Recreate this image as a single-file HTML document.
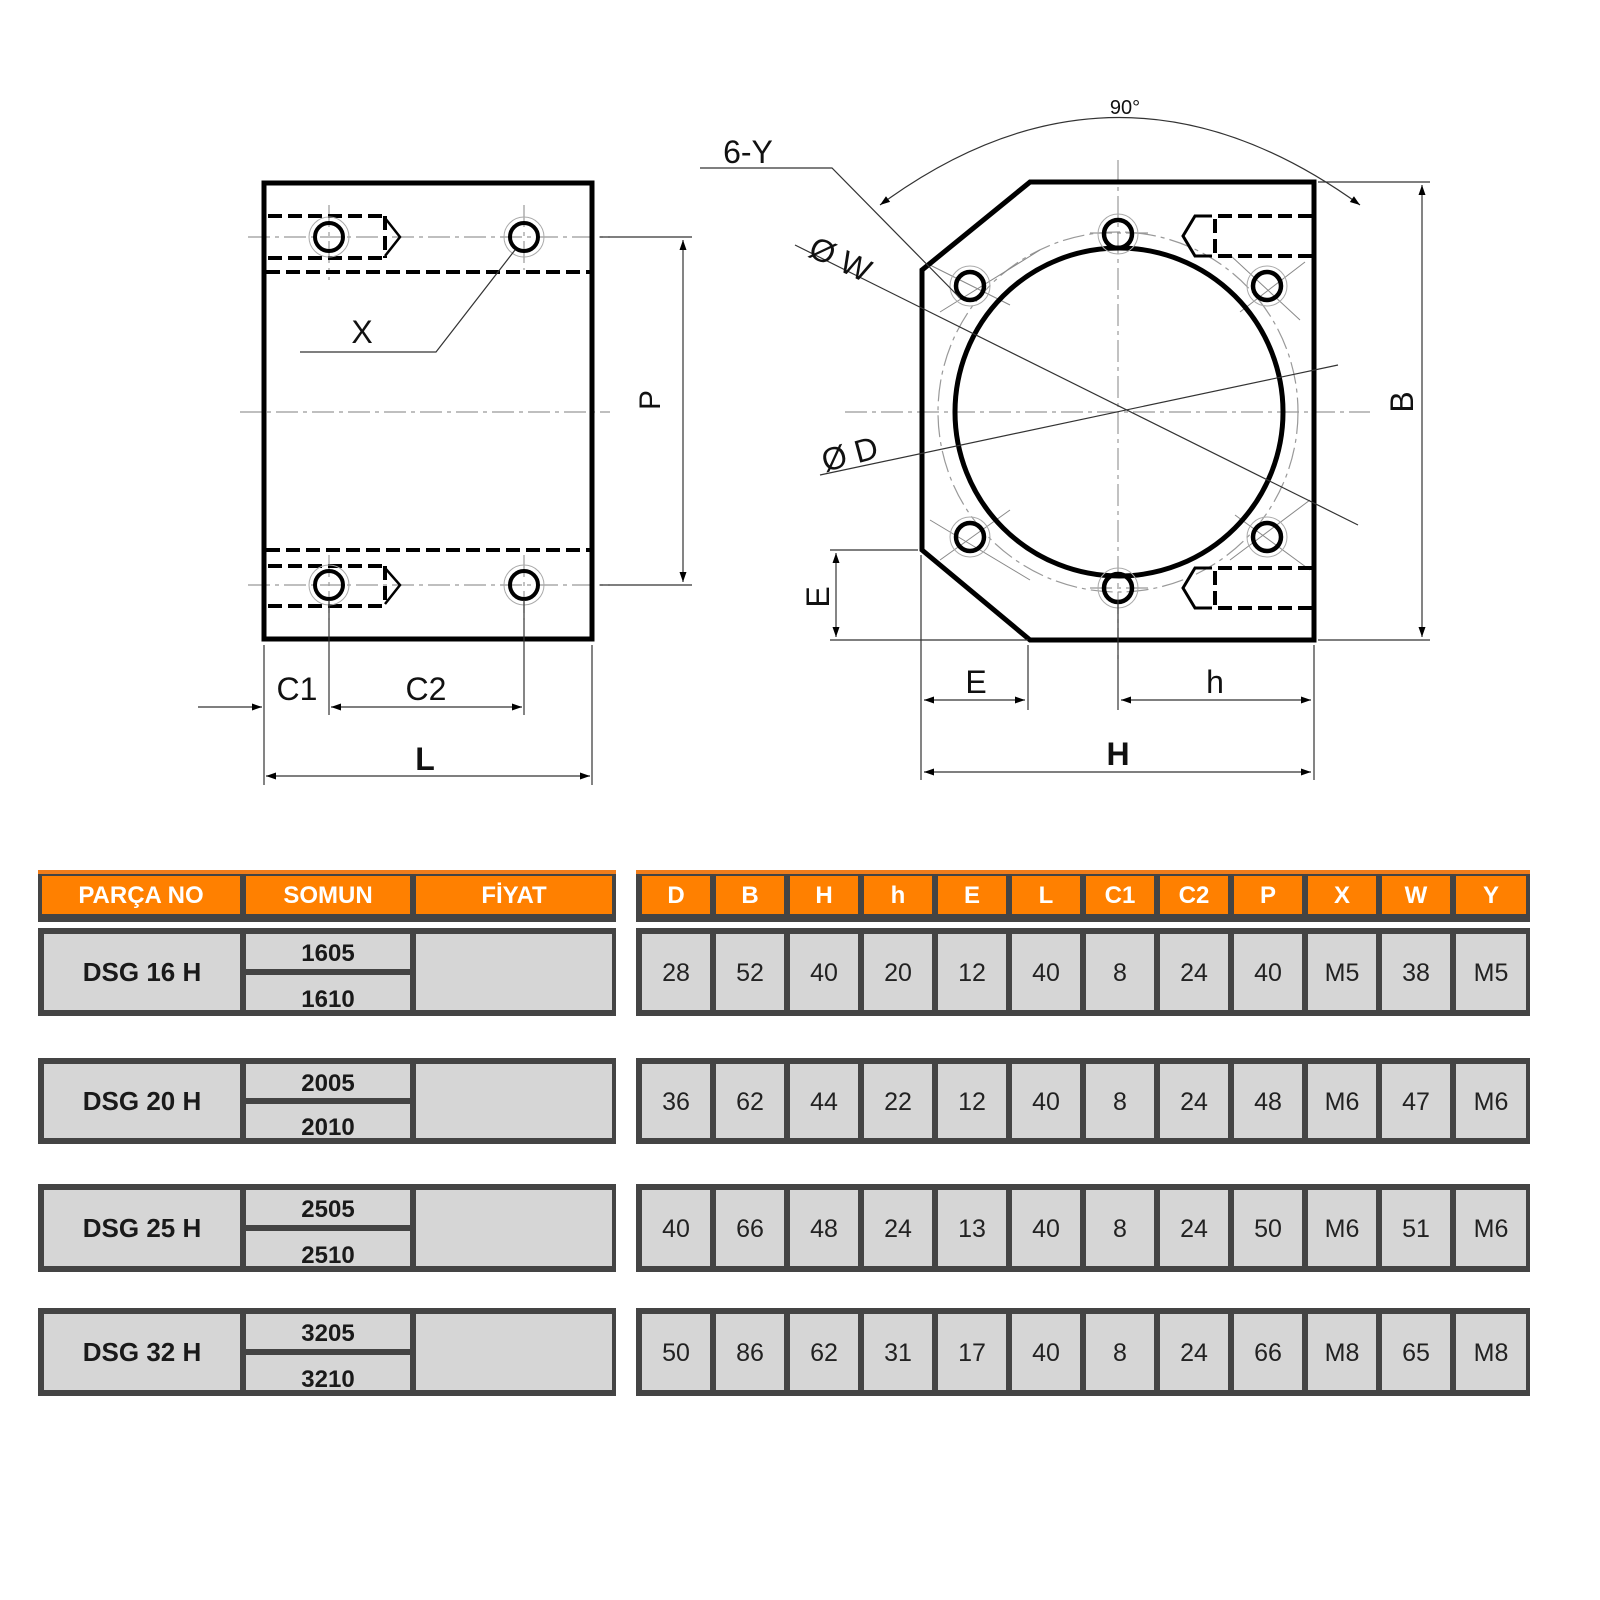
<!DOCTYPE html>
<html><head><meta charset="utf-8"><style>body{margin:0;background:#fff}svg{display:block}</style></head>
<body>
<svg width="1600" height="1600" viewBox="0 0 1600 1600" xmlns="http://www.w3.org/2000/svg" font-family="Liberation Sans, sans-serif">
<defs>
<marker id="ar" viewBox="0 0 10 10" refX="10" refY="5" markerWidth="22" markerHeight="10" orient="auto-start-reverse" markerUnits="userSpaceOnUse"><path d="M0,1.5 L10,5 L0,8.5 z" fill="#000"/></marker>
</defs>
<!-- LEFT VIEW -->
<g stroke="#999" stroke-width="1.2" stroke-dasharray="22,5,4,5" fill="none">
<line x1="240" y1="412" x2="610" y2="412"/>
<line x1="248" y1="237" x2="610" y2="237"/>
<line x1="248" y1="585" x2="610" y2="585"/>
<line x1="329" y1="205" x2="329" y2="280"/>
<line x1="524" y1="205" x2="524" y2="270"/>
<line x1="329" y1="555" x2="329" y2="620"/>
<line x1="524" y1="555" x2="524" y2="620"/>
</g>
<rect x="264" y="183" width="328" height="456" fill="none" stroke="#000" stroke-width="5"/>
<g stroke="#000" stroke-width="4" stroke-dasharray="14,6" fill="none">
<line x1="266" y1="272" x2="590" y2="272"/>
<line x1="266" y1="550" x2="590" y2="550"/>
<path d="M268,216 H385 M268,258 H385 M385,216 V258"/>
<path d="M268,566 H385 M268,606 H385 M385,566 V606"/>
</g>
<g stroke="#000" stroke-width="2.5" fill="none">
<path d="M385,218 L400,237 L385,256"/><path d="M385,568 L400,585 L385,604"/>
<circle cx="329" cy="237" r="14" stroke-width="4"/><circle cx="524" cy="237" r="14" stroke-width="4"/>
<circle cx="329" cy="585" r="14" stroke-width="4"/><circle cx="524" cy="585" r="14" stroke-width="4"/>
</g>
<g stroke="#aaa" stroke-width="1" fill="none">
<circle cx="329" cy="237" r="20"/><circle cx="524" cy="237" r="20"/><circle cx="329" cy="585" r="20"/><circle cx="524" cy="585" r="20"/>
</g>
<g stroke="#333" stroke-width="1.2" fill="none">
<path d="M300,352 H436 L515,250"/>
<line x1="600" y1="237" x2="692" y2="237"/><line x1="600" y1="585" x2="692" y2="585"/>
<line x1="683" y1="240" x2="683" y2="582" marker-start="url(#ar)" marker-end="url(#ar)"/>
<line x1="264" y1="645" x2="264" y2="785"/><line x1="592" y1="645" x2="592" y2="785"/>
<line x1="329" y1="600" x2="329" y2="715"/><line x1="524" y1="600" x2="524" y2="715"/>
<line x1="198" y1="707" x2="262" y2="707" marker-end="url(#ar)"/>
<line x1="331" y1="707" x2="522" y2="707" marker-start="url(#ar)" marker-end="url(#ar)"/>
<line x1="266" y1="776" x2="590" y2="776" marker-start="url(#ar)" marker-end="url(#ar)"/>
</g>
<g font-size="32" fill="#111">
<text x="362" y="343" text-anchor="middle">X</text>
<text x="672" y="412" text-anchor="middle" transform="rotate(-90 660 412)" font-size="30">P</text>
<text x="297" y="700" text-anchor="middle">C1</text>
<text x="426" y="700" text-anchor="middle">C2</text>
<text x="425" y="770" text-anchor="middle" font-weight="bold">L</text>
</g>
<!-- RIGHT VIEW -->
<g stroke="#999" stroke-width="1.2" stroke-dasharray="22,5,4,5" fill="none">
<line x1="1118" y1="160" x2="1118" y2="660"/>
<line x1="845" y1="412" x2="1370" y2="412"/>
<circle cx="1118" cy="412" r="180"/>
<line x1="1090" y1="233" x2="1150" y2="233"/><line x1="1090" y1="588" x2="1150" y2="588"/>
</g>
<g stroke="#888" stroke-width="1" fill="none">
<line x1="940" y1="312" x2="1040" y2="250"/><line x1="930" y1="265" x2="1010" y2="305"/>
<line x1="1240" y1="312" x2="1305" y2="262"/><line x1="1230" y1="255" x2="1300" y2="320"/>
<line x1="930" y1="520" x2="1030" y2="580"/><line x1="940" y1="560" x2="1010" y2="510"/>
<line x1="1230" y1="560" x2="1310" y2="500"/><line x1="1235" y1="515" x2="1310" y2="570"/>
</g>
<path d="M1030,182 H1314 V640 H1030 L922,550 V270 Z" fill="none" stroke="#000" stroke-width="5"/>
<circle cx="1119" cy="412" r="164" fill="none" stroke="#000" stroke-width="5"/>
<g stroke="#000" stroke-width="4.5" fill="none">
<circle cx="1118" cy="234" r="14"/><circle cx="970" cy="286" r="14"/><circle cx="1267" cy="286" r="14"/>
<circle cx="970" cy="537" r="14"/><circle cx="1267" cy="537" r="14"/><circle cx="1118" cy="588" r="14"/>
</g>
<g stroke="#aaa" stroke-width="1" fill="none">
<circle cx="1118" cy="234" r="20"/><circle cx="970" cy="286" r="20"/><circle cx="1267" cy="286" r="20"/>
<circle cx="970" cy="537" r="20"/><circle cx="1267" cy="537" r="20"/><circle cx="1118" cy="588" r="20"/>
</g>
<g stroke="#000" stroke-width="4" stroke-dasharray="14,6" fill="none">
<path d="M1312,216 H1215 V256 H1312"/><path d="M1312,568 H1215 V608 H1312"/>
</g>
<g stroke="#000" stroke-width="3" fill="none">
<path d="M1212,216 H1195 L1183,236 L1195,256 H1212"/><path d="M1212,568 H1195 L1183,588 L1195,608 H1212"/>
</g>
<g stroke="#333" stroke-width="1.2" fill="none">
<path d="M880,205 Q1118,30 1360,205" marker-start="url(#ar)" marker-end="url(#ar)"/>
<path d="M700,168 H832 L960,298"/>
<line x1="795" y1="245" x2="1358" y2="525"/>
<line x1="820" y1="475" x2="1338" y2="365"/>
<line x1="1318" y1="182" x2="1430" y2="182"/><line x1="1318" y1="640" x2="1430" y2="640"/>
<line x1="1422" y1="185" x2="1422" y2="637" marker-start="url(#ar)" marker-end="url(#ar)"/>
<line x1="830" y1="550" x2="918" y2="550"/><line x1="830" y1="640" x2="1028" y2="640"/>
<line x1="836" y1="553" x2="836" y2="637" marker-start="url(#ar)" marker-end="url(#ar)"/>
<line x1="921" y1="555" x2="921" y2="780"/><line x1="1028" y1="645" x2="1028" y2="710"/>
<line x1="1118" y1="600" x2="1118" y2="710"/><line x1="1314" y1="645" x2="1314" y2="780"/>
<line x1="924" y1="700" x2="1025" y2="700" marker-start="url(#ar)" marker-end="url(#ar)"/>
<line x1="1121" y1="700" x2="1311" y2="700" marker-start="url(#ar)" marker-end="url(#ar)"/>
<line x1="924" y1="772" x2="1311" y2="772" marker-start="url(#ar)" marker-end="url(#ar)"/>
</g>
<g fill="#111" font-size="32">
<text x="1125" y="114" text-anchor="middle" font-size="20">90°</text>
<text x="748" y="163" text-anchor="middle">6-Y</text>
<text x="840" y="270" transform="rotate(25 840 260)" text-anchor="middle">Ø W</text>
<text x="850" y="465" transform="rotate(-15 850 455)" text-anchor="middle">Ø D</text>
<text x="1410" y="425" transform="rotate(-90 1400 412)" text-anchor="middle">B</text>
<text x="818" y="608" transform="rotate(-90 818 597)" text-anchor="middle">E</text>
<text x="976" y="693" text-anchor="middle">E</text>
<text x="1215" y="693" text-anchor="middle">h</text>
<text x="1118" y="765" text-anchor="middle" font-weight="bold">H</text>
</g>
<!-- TABLE HEADERS -->
<rect x="38" y="870" width="578" height="52" fill="#444"/>
<rect x="38" y="870" width="578" height="4" fill="#f07d1a"/>
<g fill="#ff8000">
<rect x="42" y="876" width="198" height="38"/><rect x="246" y="876" width="164" height="38"/><rect x="416" y="876" width="196" height="38"/>
</g>
<g fill="#fff" font-size="24" font-weight="bold" text-anchor="middle">
<text x="141" y="903">PARÇA NO</text><text x="328" y="903">SOMUN</text><text x="514" y="903">FİYAT</text>
</g>
<rect x="636" y="870" width="894" height="52" fill="#444"/>
<rect x="636" y="870" width="894" height="4" fill="#f07d1a"/>
<g fill="#ff8000">
<rect x="642" y="876" width="68" height="38"/><rect x="716" y="876" width="68" height="38"/><rect x="790" y="876" width="68" height="38"/><rect x="864" y="876" width="68" height="38"/><rect x="938" y="876" width="68" height="38"/><rect x="1012" y="876" width="68" height="38"/><rect x="1086" y="876" width="68" height="38"/><rect x="1160" y="876" width="68" height="38"/><rect x="1234" y="876" width="68" height="38"/><rect x="1308" y="876" width="68" height="38"/><rect x="1382" y="876" width="68" height="38"/><rect x="1456" y="876" width="70" height="38"/>
</g>
<g fill="#fff" font-size="24" font-weight="bold" text-anchor="middle">
<text x="676" y="903">D</text><text x="750" y="903">B</text><text x="824" y="903">H</text><text x="898" y="903">h</text><text x="972" y="903">E</text><text x="1046" y="903">L</text><text x="1120" y="903">C1</text><text x="1194" y="903">C2</text><text x="1268" y="903">P</text><text x="1342" y="903">X</text><text x="1416" y="903">W</text><text x="1491" y="903">Y</text>
</g>
</svg>
<script>
(function(){
var ns="http://www.w3.org/2000/svg",svg=document.querySelector('svg');
function el(t,a,txt){var e=document.createElementNS(ns,t);for(var k in a)e.setAttribute(k,a[k]);if(txt!=null)e.textContent=txt;svg.appendChild(e);return e;}
var rows=[[928,88,"DSG 16 H","1605","1610",["28","52","40","20","12","40","8","24","40","M5","38","M5"]],
[1058,86,"DSG 20 H","2005","2010",["36","62","44","22","12","40","8","24","48","M6","47","M6"]],
[1184,88,"DSG 25 H","2505","2510",["40","66","48","24","13","40","8","24","50","M6","51","M6"]],
[1308,88,"DSG 32 H","3205","3210",["50","86","62","31","17","40","8","24","66","M8","65","M8"]]];
rows.forEach(function(r){
var y=r[0],h=r[1],cy=y+h/2;
el('rect',{x:38,y:y,width:578,height:h,fill:'#444'});
el('rect',{x:44,y:y+6,width:196,height:h-12,fill:'#d6d6d6'});
el('rect',{x:246,y:y+6,width:164,height:(h-12)/2-3,fill:'#d6d6d6'});
el('rect',{x:246,y:cy+3,width:164,height:(h-12)/2-3,fill:'#d6d6d6'});
el('rect',{x:416,y:y+6,width:196,height:h-12,fill:'#d6d6d6'});
el('text',{x:142,y:cy+9,'text-anchor':'middle','font-size':26,'font-weight':'bold',fill:'#1a1a1a'},r[2]);
el('text',{x:328,y:y+33,'text-anchor':'middle','font-size':24,'font-weight':'bold',fill:'#1a1a1a'},r[3]);
el('text',{x:328,y:y+h-9,'text-anchor':'middle','font-size':24,'font-weight':'bold',fill:'#1a1a1a'},r[4]);
el('rect',{x:636,y:y,width:894,height:h,fill:'#444'});
for(var i=0;i<12;i++){var x=642+74*i,w=i==11?70:68;
el('rect',{x:x,y:y+6,width:w,height:h-12,fill:'#d6d6d6'});
el('text',{x:x+w/2,y:cy+9,'text-anchor':'middle','font-size':25,fill:'#222'},r[5][i]);}
});
})();
</script>
</body></html>
